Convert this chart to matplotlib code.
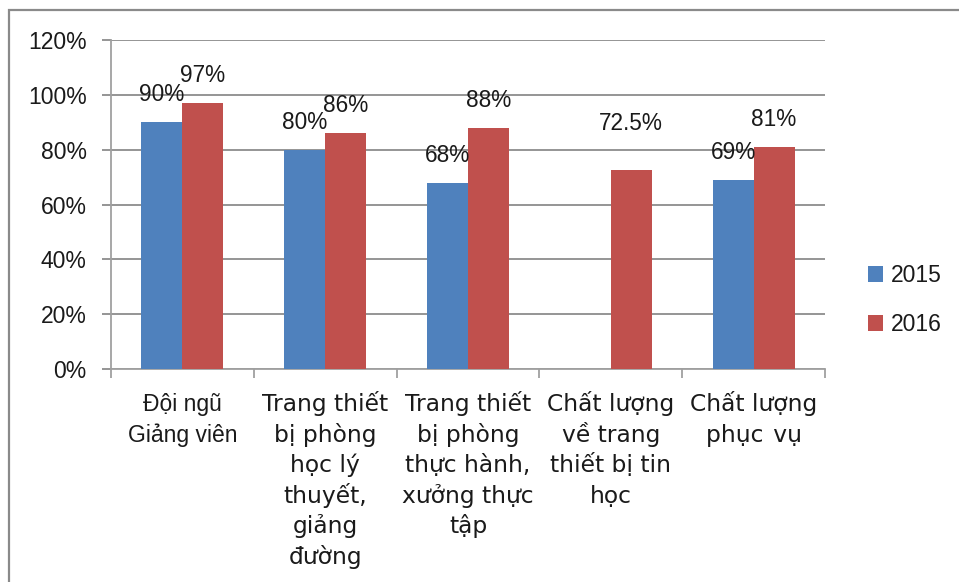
import matplotlib
matplotlib.use("Agg")
import matplotlib.pyplot as plt
import matplotlib.transforms as mtransforms
from matplotlib.patches import Rectangle, Patch
import numpy as np

# Survey results by category, two survey years
categories = [
    "Đội ngũ\nGiảng viên",
    "Trang thiết\nbị phòng\nhọc lý\nthuyết,\ngiảng\nđường",
    "Trang thiết\nbị phòng\nthực hành,\nxưởng thực\ntập",
    "Chất lượng\nvề trang\nthiết bị tin\nhọc",
    "Chất lượng\nphục \u200avụ",
]
series_names = ["2015", "2016"]
values_2015 = [90, 80, 68, np.nan, 69]
values_2016 = [97, 86, 88, 72.5, 81]
labels_2015 = ["90%", "80%", "68%", "", "69%"]
labels_2016 = ["97%", "86%", "88%", "72.5%", "81%"]
yticks = [0, 20, 40, 60, 80, 100, 120]
ytick_labels = ["0%", "20%", "40%", "60%", "80%", "100%", "120%"]

BLUE = "#4F81BD"
RED = "#C0504D"
GRID = "#8C8C8C"
TEXT = "#1a1a1a"

W, H, DPI = 959, 582, 100
fig = plt.figure(figsize=(W / DPI, H / DPI), dpi=DPI)
fig.patch.set_facecolor("white")

# Outer chart frame (top and left edges visible)
fig.patches.append(Rectangle((9 / W, -0.1), 1.2, (H - 10) / H + 0.1,
                             transform=fig.transFigure, fill=False,
                             edgecolor="#8A8A8A", linewidth=1.6))

left, right, top, bottom = 111, 825, 40, 369
ax = fig.add_axes([left / W, 1 - bottom / H, (right - left) / W, (bottom - top) / H])

x = np.arange(len(categories))
width = 0.287
ax.bar(x - width / 2, values_2015, width, color=BLUE, zorder=3)
ax.bar(x + width / 2, values_2016, width, color=RED, zorder=3)

ax.set_xlim(-0.5, len(categories) - 0.5)
ax.set_ylim(0, 120)

# Value labels above bars
label_font = dict(family="Liberation Sans", size=16.3, color=TEXT)
raise_px = {("2016", 3): 47}
for name, vals, labs, dx in [("2015", values_2015, labels_2015, -width / 2),
                             ("2016", values_2016, labels_2016, width / 2)]:
    for i, (v, lab) in enumerate(zip(vals, labs)):
        if not lab:
            continue
        off = raise_px.get((name, i), 27.5) * 72 / DPI
        tr = mtransforms.offset_copy(ax.transData, fig=fig, x=0, y=off, units="points")
        ax.text(x[i] + dx, v, lab, transform=tr, ha="center", va="center",
                zorder=5, **label_font)

# Y axis
ax.set_yticks(yticks)
ax.set_yticklabels(ytick_labels, family="Liberation Sans", fontsize=16.5, color=TEXT)
ax.tick_params(axis="y", length=6.5, width=1.3, color=GRID, pad=11.0)
ax.yaxis.grid(True, color=GRID, linewidth=1.3, zorder=0)
ax.set_axisbelow(True)

# X axis: boundary ticks, labels drawn line by line
ax.set_xticks(np.arange(len(categories) + 1) - 0.5)
ax.set_xticklabels([])
ax.tick_params(axis="x", length=6.5, width=1.3, color="#A0A0A0")

for s in ["top", "right"]:
    ax.spines[s].set_visible(False)
ax.spines["left"].set_color("#A0A0A0")
ax.spines["bottom"].set_color("#A0A0A0")
ax.spines["left"].set_linewidth(1.3)
ax.spines["bottom"].set_linewidth(1.3)

first_baseline = 411 - bottom  # px below axis
line_step = 30.6
xtrans = mtransforms.blended_transform_factory(ax.transData, ax.transAxes)
for i, cat in enumerate(categories):
    fam = "Liberation Sans" if i == 0 else "DejaVu Sans"
    size = 16.5 if i == 0 else 16.8
    for j, line in enumerate(cat.split("\n")):
        dy = -(first_baseline + j * line_step) * 72 / DPI
        tr = mtransforms.offset_copy(xtrans, fig=fig, x=0, y=dy, units="points")
        ax.text(x[i], 0, line, transform=tr, ha="center", va="baseline",
                family=fam, fontsize=size, color=TEXT, clip_on=False)

# Legend
handles = [Patch(facecolor=BLUE, label=series_names[0]),
           Patch(facecolor=RED, label=series_names[1])]
leg = fig.legend(handles=handles, loc="upper left",
                 bbox_to_anchor=(852 / W, 1 - 248 / H), frameon=False,
                 prop=dict(family="Liberation Sans", size=16.5),
                 handlelength=0.65, handleheight=0.65, handletextpad=0.35,
                 labelspacing=1.14, borderpad=0.2, labelcolor=TEXT)

fig.savefig("out.png", dpi=DPI, facecolor="white")
